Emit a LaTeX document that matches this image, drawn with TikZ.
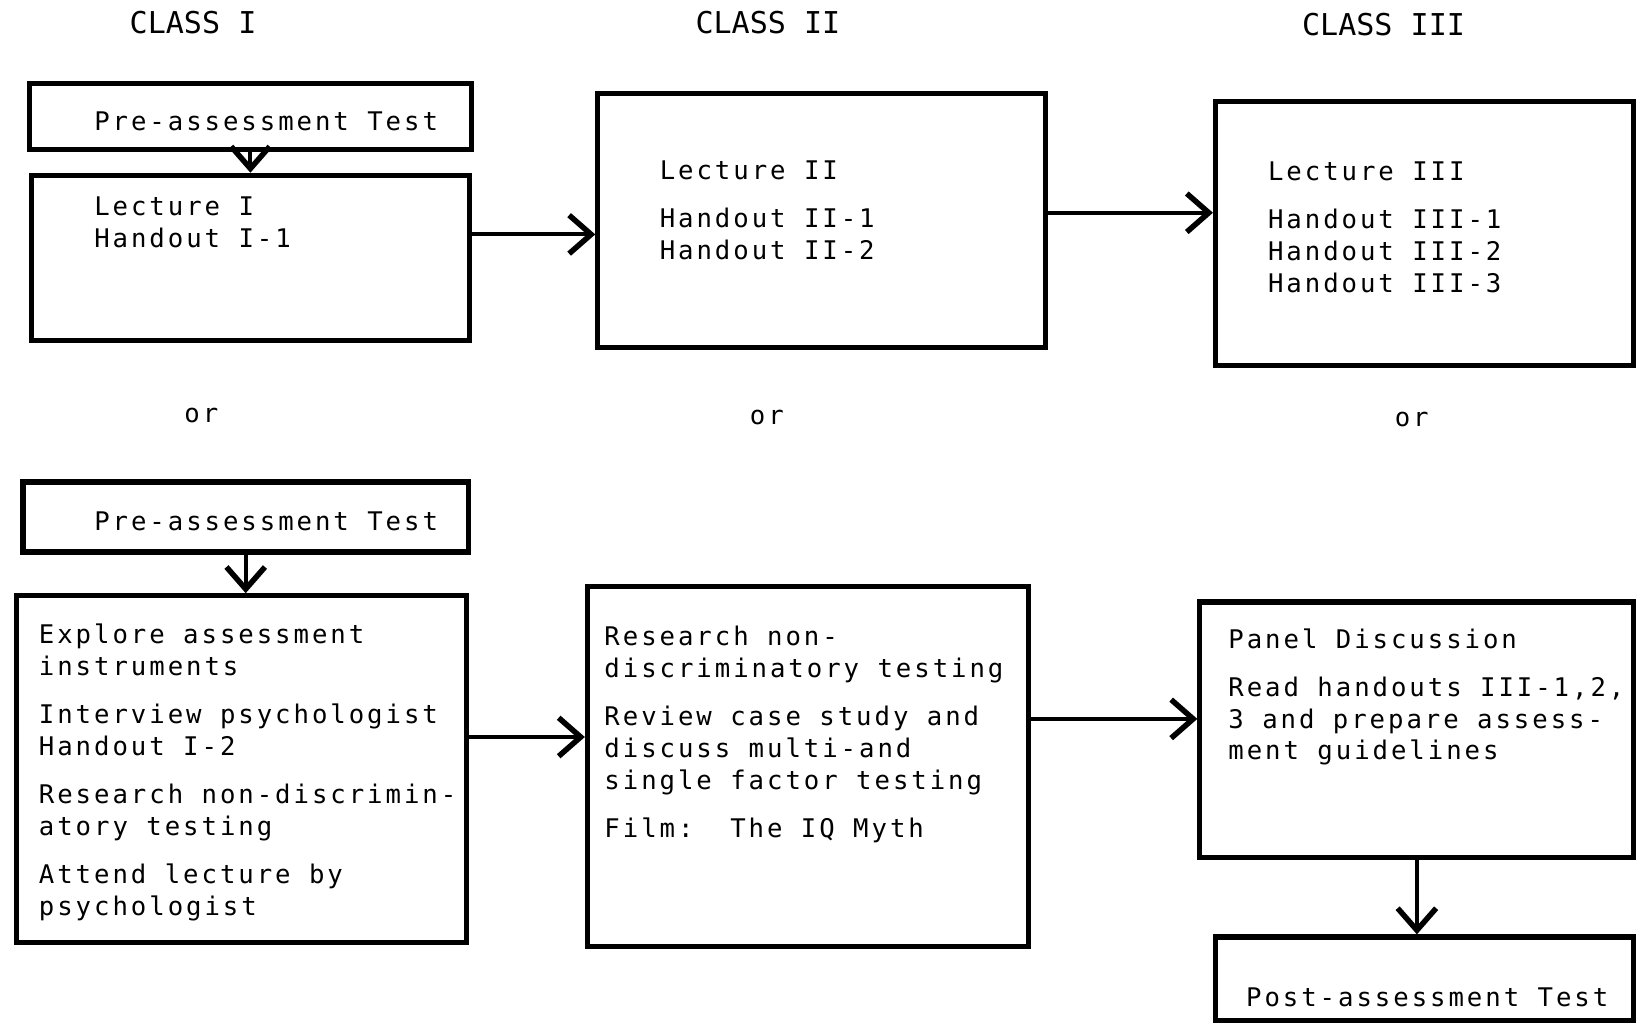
\documentclass[tikz,border=0pt]{standalone}
\usepackage{fontspec}
\newfontfamily\twfont[LetterSpace=11.5]{DejaVu Sans Mono}
\newfontfamily\hdfont{DejaVu Sans Mono}
\usetikzlibrary{arrows.meta,fit}
\tikzset{
  stagebox/.style={draw, rectangle, line width=2.8pt, inner sep=0pt},
  stagetext/.style={anchor=north west, inner sep=0pt, align=left, font=\twfont\fontsize{14}{17.4}\selectfont},
  classhead/.style={font=\hdfont\fontsize{16.4}{19}\selectfont, inner sep=0pt},
  orword/.style={font=\twfont\fontsize{14}{17}\selectfont, inner sep=0pt},
  flow/.style={line width=2.2pt, -{Straight Barb[length=12pt,width=21pt,line width=3pt]}}
}

\begin{document}
\begin{tikzpicture}[x=0.02cm,y=-0.02cm]
    \useasboundingbox (0,0) rectangle (1568,989);

    \node[classhead] (h1) at (185,22) {CLASS I};
    \node[classhead] (h2) at (736,22) {CLASS II};
    \node[classhead] (h3) at (1326,24) {CLASS III};

    % first way
    \node[stagebox, fit={(28,80) (452,143)}] (pre1) {};
    \node[stagebox, fit={(30,168) (450,326)}] (lec1) {};
    \node[stagebox, fit={(573,90) (1002,333)}] (lec2) {};
    \node[stagebox, fit={(1165,97) (1566,350)}] (lec3) {};

    \node[stagetext] (pre1t) at (90,107) {Pre-assessment Test};
    \node[stagetext] (lec1t) at (90,188) {Lecture I\\Handout I-1};
    \node[stagetext] (lec2t) at (632,154) {Lecture II\\[8.8pt]Handout II-1\\Handout II-2};
    \node[stagetext] (lec3t) at (1215,155) {Lecture III\\[8.8pt]Handout III-1\\Handout III-2\\Handout III-3};

    \node[orword] (or1) at (193,398) {or};
    \node[orword] (or2) at (735,400) {or};
    \node[orword] (or3) at (1353,402) {or};

    % second way
    \node[stagebox, fit={(22,462) (449,529)}] (pre2) {};
    \node[stagebox, fit={(16,571) (447,903)}] (act1) {};
    \node[stagebox, fit={(563,562) (986,907)}] (act2) {};
    \node[stagebox, fit={(1150,577) (1566,822)}] (act3) {};
    \node[stagebox, fit={(1165,898) (1566,978)}] (post) {};

    \node[stagetext] (pre2t) at (90,490) {Pre-assessment Test};
    \node[stagetext] (act1t) at (37,598) {Explore assessment\\instruments\\[8.8pt]Interview psychologist\\Handout I-2\\[8.8pt]Research non-discrimin-\\atory testing\\[8.8pt]Attend lecture by\\psychologist};
    \node[stagetext] (act2t) at (579,600) {Research non-\\discriminatory testing\\[8.8pt]Review case study and\\discuss multi-and\\single factor testing\\[8.8pt]Film:\ \ The IQ Myth};
    \node[stagetext] (act3t) at (1177,602) {Panel Discussion\\[8.8pt]Read handouts III-1,2,\\3 and prepare assess-\\ment guidelines};
    \node[stagetext] (postt) at (1194,946) {Post-assessment Test};

    \draw[flow] (pre1) -- (lec1);
    \draw[flow] (lec1.6) -- (lec1.6 -| lec2.west);
    \draw[flow] (lec2.2) -- (lec2.2 -| lec3.west);
    \draw[flow] (pre2.south) -- (pre2.south |- act1.north);
    \draw[flow] (act1.8) -- (act1.8 -| act2.west);
    \draw[flow] (act2.12) -- (act2.12 -| act3.west);
    \draw[flow] (act3.south) -- (act3.south |- post.north);
\end{tikzpicture}
\end{document}
